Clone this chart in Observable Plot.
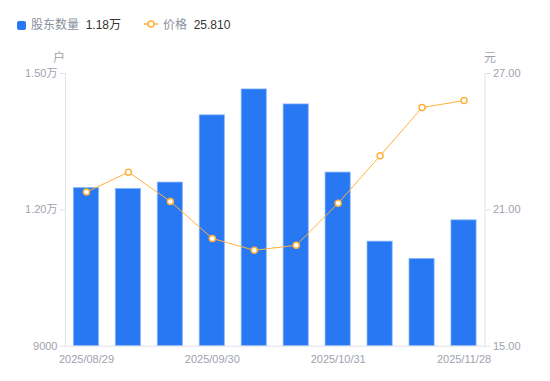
<!DOCTYPE html>
<html><head><meta charset="utf-8">
<script src="https://cdn.jsdelivr.net/npm/d3@7"></script>
<script src="https://cdn.jsdelivr.net/npm/@observablehq/plot@0.6"></script>
<style>
html,body{margin:0;padding:0;background:#fff;}
#wrap{position:relative;width:550px;height:381px;font-family:"Liberation Sans","Noto Sans CJK SC",sans-serif;}
.lg{position:absolute;top:16px;font-size:12px;line-height:18px;white-space:nowrap;}
.gray{color:#8a8f9c;}
.dark{color:#333;}
.unit{position:absolute;top:48px;font-size:12px;color:#9ea2ae;}
#wrap > svg{position:absolute;left:0;top:0;}
</style></head>
<body><div id="wrap">
<div class="lg" style="left:17px"><span style="display:inline-block;width:9px;height:9px;background:#2878f3;border-radius:2px;vertical-align:-1px;margin-right:5px"></span><span class="gray">股东数量</span>&nbsp;&nbsp;<span class="dark">1.18万</span></div>
<div class="lg" style="left:144px"><svg width="14" height="10" style="position:relative;vertical-align:0px;margin-right:5px"><line x1="0" y1="5" x2="14" y2="5" stroke="#ffb13b" stroke-width="1.5"/><circle cx="7" cy="5" r="3" fill="#fff" stroke="#ffb13b" stroke-width="1.5"/></svg><span class="gray">价格</span>&nbsp;&nbsp;<span class="dark">25.810</span></div>
<div class="unit" style="left:53px">户</div>
<div class="unit" style="left:484px">元</div>
</div>
<script>
const dates = ["2025/08/29","2025/09/10","2025/09/19","2025/09/30","2025/10/10","2025/10/20","2025/10/31","2025/11/10","2025/11/20","2025/11/28"];
const holders = [12480,12460,12600,14080,14650,14320,12820,11300,10920,11770];
const prices = [21.78,22.66,21.37,19.74,19.22,19.44,21.29,23.38,25.50,25.81];
const xTickLabels = ["2025/08/29","2025/09/30","2025/10/31","2025/11/28"];
const leftTicks = [9000,12000,15000];
const priceMin = 15, priceMax = 27;
const hMin = 9000, hMax = 15000;

const toY = p => hMin + (p - priceMin) / (priceMax - priceMin) * (hMax - hMin);
const toP = y => priceMin + (y - hMin) / (hMax - hMin) * (priceMax - priceMin);
const data = dates.map((d,i)=>({date:d, holders:holders[i], price:prices[i], py: toY(prices[i])}));

const axisColor = "#e0e2e8";
const textColor = "#9ea2ae";

const chart = Plot.plot({
  width: 550, height: 381,
  marginLeft: 65, marginRight: 65.5, marginTop: 73, marginBottom: 35.3,
  style: {fontFamily: '"Liberation Sans","Noto Sans CJK SC",sans-serif', fontSize: "11px", background: "transparent", color: textColor},
  x: {type: "band", domain: dates, paddingInner: 0.4, paddingOuter: 0.2, round: false},
  y: {domain: [hMin, hMax]},
  marks: [
    Plot.barY(data, {x: "date", y1: hMin, y2: "holders", fill: "#2878f3", stroke: "#8cb8f8", strokeWidth: 1, strokeOpacity: 0.7}),
    Plot.frame({anchor: "left", stroke: axisColor}),
    Plot.frame({anchor: "right", stroke: axisColor}),
    Plot.frame({anchor: "bottom", stroke: axisColor}),
    Plot.axisY({anchor: "left", ticks: leftTicks, tickSize: 5, tickPadding: 3, stroke: axisColor, fill: textColor,
      tickFormat: d => d >= 10000 ? (d/10000).toFixed(2) + "万" : String(d), label: null}),
    Plot.axisY({anchor: "right", ticks: leftTicks, tickSize: 5, tickPadding: 3, stroke: axisColor, fill: textColor,
      tickFormat: d => toP(d).toFixed(2), label: null}),
    Plot.axisX({ticks: xTickLabels, tickSize: 0, tickPadding: 9, fill: textColor, label: null}),
    Plot.lineY(data, {x: "date", y: "py", stroke: "#ffb13b", strokeWidth: 1}),
    Plot.dot(data, {x: "date", y: "py", r: 3, fill: "#fff", stroke: "#ffb13b", strokeWidth: 1.5})
  ]
});
document.getElementById("wrap").appendChild(chart);
</script>
</body></html>
